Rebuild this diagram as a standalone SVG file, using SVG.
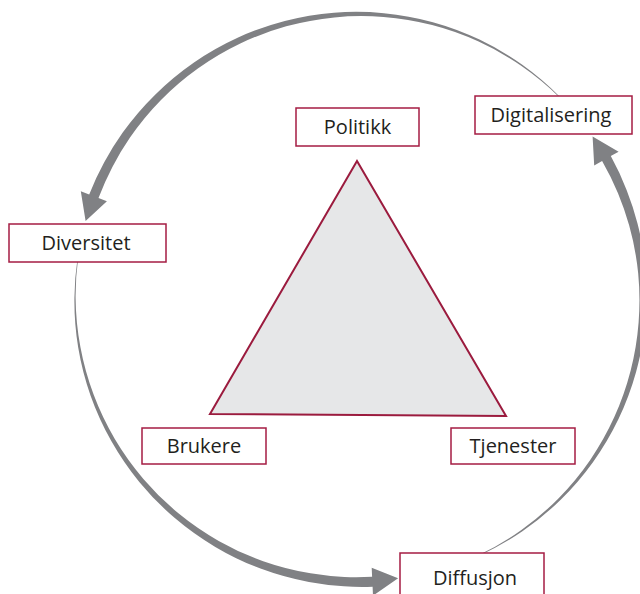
<svg xmlns="http://www.w3.org/2000/svg" width="640" height="594" viewBox="0 0 640 594">
<style>
.box{fill:#ffffff;stroke:#a51c43;stroke-width:1.5}
.lbl{font-family:"Open Sans","Liberation Sans",sans-serif;font-size:20px;fill:#231f20;text-anchor:middle}
.arc{fill:#808184;stroke:none}
</style>
<rect width="640" height="594" fill="#ffffff"/>
<g id="connectors">
<path class="arc" d="M560.0,97.0 A287,287 0 0 0 522.3,64.8 A287,287 0 0 0 479.5,39.6 A287,287 0 0 0 432.9,22.2 A287,287 0 0 0 383.9,13.2 A287,287 0 0 0 334.0,12.7 A287,287 0 0 0 284.8,21.0 A287,287 0 0 0 237.6,37.7 A287,287 0 0 0 194.0,62.4 A287,287 0 0 0 155.4,94.4 A287,287 0 0 0 122.7,132.6 A287,287 0 0 0 104.1,162.5 A287,287 0 0 0 89.2,194.4 L80.8,191.2 L85.6,220.9 L106.9,201.2 L98.5,198.0 A281,281 0 0 1 112.4,166.9 A281,281 0 0 1 130.0,137.6 A281,281 0 0 1 161.0,100.0 A281,281 0 0 1 198.2,68.3 A281,281 0 0 1 240.3,43.5 A281,281 0 0 1 286.2,26.3 A281,281 0 0 1 334.4,17.4 A281,281 0 0 1 383.6,17.0 A281,281 0 0 1 432.1,25.1 A281,281 0 0 1 478.6,41.6 A281,281 0 0 1 521.5,65.9 A281,281 0 0 1 559.6,97.4 Z"/>
<path class="arc" d="M77.5,258.4 A287,287 0 0 0 74.4,298 A287,287 0 0 0 78.2,347.5 A287,287 0 0 0 90.6,395.7 A287,287 0 0 0 111.3,441.0 A287,287 0 0 0 139.5,482.2 A287,287 0 0 0 174.5,517.8 A287,287 0 0 0 215.3,546.9 A287,287 0 0 0 260.5,568.6 A287,287 0 0 0 308.9,582.0 A287,287 0 0 0 343.9,586.3 A287,287 0 0 0 372.6,586.7 L373.0,595.7 L398.1,578.3 L371.7,567.7 L372.1,576.7 A281,281 0 0 1 344.4,576.9 A281,281 0 0 1 310.5,573.3 A281,281 0 0 1 263.2,561.2 A281,281 0 0 1 218.7,540.9 A281,281 0 0 1 178.4,513.3 A281,281 0 0 1 143.4,478.9 A281,281 0 0 1 114.8,439.0 A281,281 0 0 1 93.6,394.6 A281,281 0 0 1 80.4,347.1 A281,281 0 0 1 75.6,298 A281,281 0 0 1 78.1,258.5 Z"/>
<path class="arc" d="M479.1,555.7 A287,287 0 0 0 522.4,531.3 A287,287 0 0 0 560.7,499.7 A287,287 0 0 0 593.1,461.9 A287,287 0 0 0 618.5,419.0 A287,287 0 0 0 636.0,372.2 A287,287 0 0 0 645.2,323.1 A287,287 0 0 0 645.7,272.9 A287,287 0 0 0 637.5,223.4 A287,287 0 0 0 626.6,189.9 A287,287 0 0 0 610.8,156.1 L618.6,151.7 L592.6,136.5 L594.2,165.5 L602.1,161.0 A281,281 0 0 1 618.0,193.3 A281,281 0 0 1 629.2,225.6 A281,281 0 0 1 638.2,273.6 A281,281 0 0 1 638.6,322.5 A281,281 0 0 1 630.6,370.8 A281,281 0 0 1 614.3,417.1 A281,281 0 0 1 590.2,459.9 A281,281 0 0 1 558.9,497.9 A281,281 0 0 1 521.4,530.0 A281,281 0 0 1 478.9,555.1 Z"/>
</g>
<g id="triangle">
<polygon points="357,161 210,414 506,416" fill="#e6e7e8" stroke="#9b1b3e" stroke-width="2" stroke-linejoin="miter"/>
</g>
<g id="politikk">
<rect class="box" x="296" y="108" width="123" height="38"/>
<text class="lbl" x="357.5" y="134">Politikk</text>
</g>
<g id="digitalisering">
<rect class="box" x="475" y="96" width="157" height="38"/>
<text class="lbl" x="551" y="122">Digitalisering</text>
</g>
<g id="diversitet">
<rect class="box" x="9" y="224" width="157" height="38"/>
<text class="lbl" x="86" y="250">Diversitet</text>
</g>
<g id="brukere">
<rect class="box" x="142" y="428" width="124" height="36"/>
<text class="lbl" x="204" y="453">Brukere</text>
</g>
<g id="tjenester">
<rect class="box" x="451" y="428" width="124" height="36"/>
<text class="lbl" x="513" y="453">Tjenester</text>
</g>
<g id="diffusjon">
<rect class="box" x="400" y="553" width="144" height="48"/>
<text class="lbl" x="475" y="585">Diffusjon</text>
</g>
</svg>
